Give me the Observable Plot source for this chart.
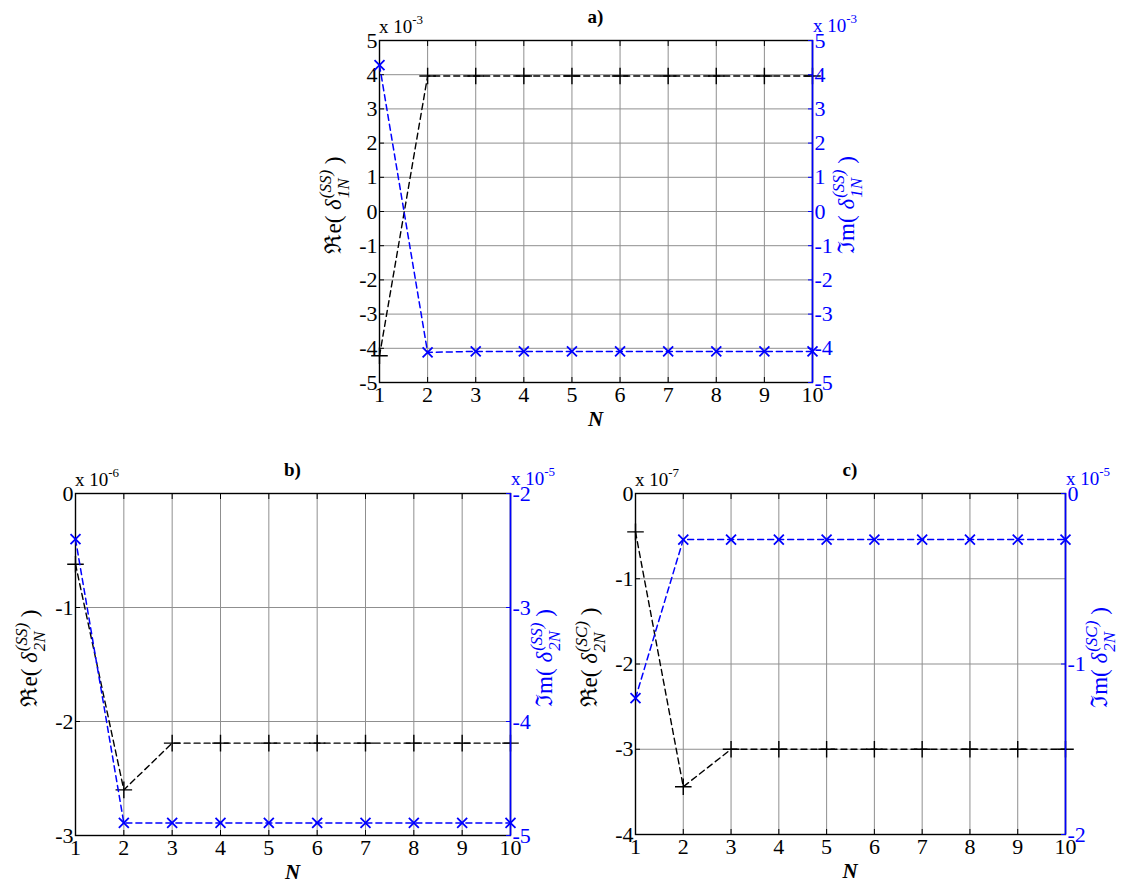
<!DOCTYPE html>
<html><head><meta charset="utf-8">
<script src="https://cdn.jsdelivr.net/npm/d3@7"></script>
<script src="https://cdn.jsdelivr.net/npm/@observablehq/plot@0.6"></script>
<style>
body{margin:0;background:#fff;}
#root{position:relative;width:1126px;height:883px;overflow:hidden;background:#fff;}
.panel{position:absolute;}
.panel svg{position:absolute;left:0;top:0;overflow:visible;}
.panel svg text, .panel svg tspan{font-family:"Liberation Serif","Times New Roman",Times,serif !important;}
</style></head><body><div id="root"></div>
<script>
// ---- data (mantissas; exponents given separately) ----
const N = [1,2,3,4,5,6,7,8,9,10];

const reA = [-4.22, 3.96, 3.96, 3.96, 3.96, 3.96, 3.96, 3.96, 3.96, 3.96];   // x 10^-3
const imA = [4.28, -4.12, -4.09, -4.09, -4.09, -4.09, -4.09, -4.09, -4.09, -4.09]; // x 10^-3
const reB = [-0.62, -2.60, -2.19, -2.19, -2.19, -2.19, -2.19, -2.19, -2.19, -2.19]; // x 10^-6
const imB = [-2.40, -4.89, -4.89, -4.89, -4.89, -4.89, -4.89, -4.89, -4.89, -4.89]; // x 10^-5
const reC = [-0.45, -3.44, -3.00, -3.00, -3.00, -3.00, -3.00, -3.00, -3.00, -3.00]; // x 10^-7
const imC = [-1.20, -0.27, -0.27, -0.27, -0.27, -0.27, -0.27, -0.27, -0.27, -0.27]; // x 10^-5

const ticksReA = [-5,-4,-3,-2,-1,0,1,2,3,4,5];
const ticksImA = [-5,-4,-3,-2,-1,0,1,2,3,4,5];
const ticksReB = [-3,-2,-1,0];
const ticksImB = [-5,-4,-3,-2];
const ticksReC = [-4,-3,-2,-1,0];
const ticksImC = [-2,-1,0];

const titles = ["a)", "b)", "c)"];
const expRe = ["-3", "-6", "-7"];
const expIm = ["-3", "-5", "-5"];
const supTxt = ["(SS)", "(SS)", "(SC)"];
const subTxt = ["1N", "2N", "2N"];

// ---- layout ----
const FONT = '"Liberation Serif","Times New Roman",Times,serif';
const M = {l:70, r:70, t:45, b:60};
const layout = [
  {left:379, top:40,  w:433, h:342},
  {left:75,  top:493, w:435, h:342},
  {left:635, top:493, w:430, h:341}
];
const series = [
  {re:reA, im:imA, tRe:ticksReA, tIm:ticksImA},
  {re:reB, im:imB, tRe:ticksReB, tIm:ticksImB},
  {re:reC, im:imC, tRe:ticksReC, tIm:ticksImC}
];

const root = document.getElementById("root");
const BLUE = "#0000ff";
const GRID = "#8f8f8f";

function richLabel(svg, x, y, base, sup, sub, tail, color, size) {
  const g = svg.append("g").attr("transform", `translate(${x},${y}) rotate(-90)`);
  const t = g.append("text").attr("font-family", FONT).attr("font-size", size).attr("fill", color)
    .attr("text-anchor", "start").attr("style", "white-space:pre");
  let cx = 0;
  for (const [txt, italic] of base) {
    const s = t.append("tspan").attr("x", cx).attr("y", 0).attr("font-style", italic ? "italic" : "normal").text(txt);
    cx += s.node().getComputedTextLength();
  }
  const ss = Math.round(size * 0.72);
  const s1 = t.append("tspan").attr("x", cx + 1).attr("y", -size * 0.45).attr("font-size", ss).attr("font-style","italic").text(sup);
  const s2 = t.append("tspan").attr("x", cx + 1).attr("y", size * 0.34).attr("font-size", ss).attr("font-style","italic").text(sub);
  cx += 1 + Math.max(s1.node().getComputedTextLength(), s2.node().getComputedTextLength());
  const s3 = t.append("tspan").attr("x", cx).attr("y", 0).attr("font-style","normal").text(tail);
  cx += s3.node().getComputedTextLength();
  t.attr("transform", `translate(${-cx/2},0)`);
}

function expLabel(svg, x, y, exp, color) {
  const t = svg.append("text").attr("x", x).attr("y", y).attr("font-family", FONT)
    .attr("text-anchor", "start").attr("font-size", 19).attr("fill", color).attr("style","white-space:pre");
  t.append("tspan").text("x 10");
  t.append("tspan").attr("dy", -9).attr("font-size", 13).text(exp);
}

layout.forEach((L, k) => {
  const S = series[k];
  const W = L.w + M.l + M.r, H = L.h + M.t + M.b;
  const div = document.createElement("div");
  div.className = "panel";
  div.style.left = (L.left - M.l) + "px";
  div.style.top = (L.top - M.t) + "px";
  div.style.width = W + "px";
  div.style.height = H + "px";
  root.appendChild(div);

  const reData = N.map((n, i) => ({n, v: S.re[i]}));
  const imData = N.map((n, i) => ({n, v: S.im[i]}));
  const common = {
    width: W, height: H, marginLeft: M.l, marginRight: M.r, marginTop: M.t, marginBottom: M.b,
    style: `background:transparent;font-family:${FONT};font-size:22px;color:black;overflow:visible;max-width:none;`
  };

  const left = Plot.plot({
    ...common,
    x: {domain: [d3.min(N), d3.max(N)], label: null},
    y: {domain: d3.extent(S.tRe), label: null},
    marks: [
      Plot.gridX(N, {stroke: GRID, strokeOpacity: 1, strokeWidth: 1}),
      Plot.gridY(S.tRe, {stroke: GRID, strokeOpacity: 1, strokeWidth: 1}),
      Plot.axisX(N, {anchor: "bottom", tickSize: 0, tickPadding: 4, tickFormat: d => String(d), label: null, fontSize: 22}),
      Plot.axisX(N, {anchor: "bottom", tickSize: -5, tickFormat: () => "", label: null}),
      Plot.axisX(N, {anchor: "top", tickSize: -5, tickFormat: () => "", label: null}),
      Plot.axisY(S.tRe, {anchor: "left", tickSize: 0, tickPadding: 2, tickFormat: d => String(d), label: null, fontSize: 22}),
      Plot.axisY(S.tRe, {anchor: "left", tickSize: -5, tickFormat: () => "", label: null}),
      Plot.frame({stroke: "black", strokeWidth: 1.4}),
      Plot.line(reData, {x: "n", y: "v", stroke: "black", strokeWidth: 1.4, strokeDasharray: "6,4"}),
      Plot.dot(reData, {x: "n", y: "v", symbol: "plus", r: 5.4, stroke: "black", strokeWidth: 1.4})
    ]
  });
  div.appendChild(left);

  const right = Plot.plot({
    ...common,
    x: {domain: [d3.min(N), d3.max(N)], axis: null},
    y: {domain: d3.extent(S.tIm), label: null},
    marks: [
      Plot.ruleX([d3.max(N)], {stroke: BLUE, strokeWidth: 1.6}),
      Plot.axisY(S.tIm, {anchor: "right", tickSize: 0, tickPadding: 2, tickFormat: d => String(d), label: null, color: BLUE, fontSize: 22}),
      Plot.axisY(S.tIm, {anchor: "right", tickSize: -5, tickFormat: () => "", label: null, color: BLUE}),
      Plot.line(imData, {x: "n", y: "v", stroke: BLUE, strokeWidth: 1.5, strokeDasharray: "6,4"}),
      Plot.dot(imData, {x: "n", y: "v", symbol: "times", r: 4.6, stroke: BLUE, strokeWidth: 1.8})
    ]
  });
  div.appendChild(right);

  const svg = d3.select(right);
  // title
  svg.append("text").attr("x", M.l + L.w/2).attr("y", M.t - 17).attr("text-anchor", "middle")
    .attr("font-family", FONT).attr("font-size", 19).attr("font-weight", "bold").text(titles[k]);
  // x label
  svg.append("text").attr("x", M.l + L.w/2).attr("y", M.t + L.h + 44).attr("text-anchor", "middle")
    .attr("font-family", FONT).attr("font-size", 21).attr("font-weight", "bold").attr("font-style", "italic").text("N");
  // exponent labels
  expLabel(svg, M.l, M.t - 7, expRe[k], "black");
  expLabel(svg, M.l + L.w + 1, M.t - 8, expIm[k], BLUE);
  // y labels
  richLabel(svg, M.l - 38, M.t + L.h/2 - 6, [["\u211Ce( ", false], ["\u03B4", true]], supTxt[k], subTxt[k], " )", "black", 23);
  richLabel(svg, M.l + L.w + 42, M.t + L.h/2 - 6, [["\u2111m( ", false], ["\u03B4", true]], supTxt[k], subTxt[k], " )", BLUE, 23);
});
</script>
</body></html>
